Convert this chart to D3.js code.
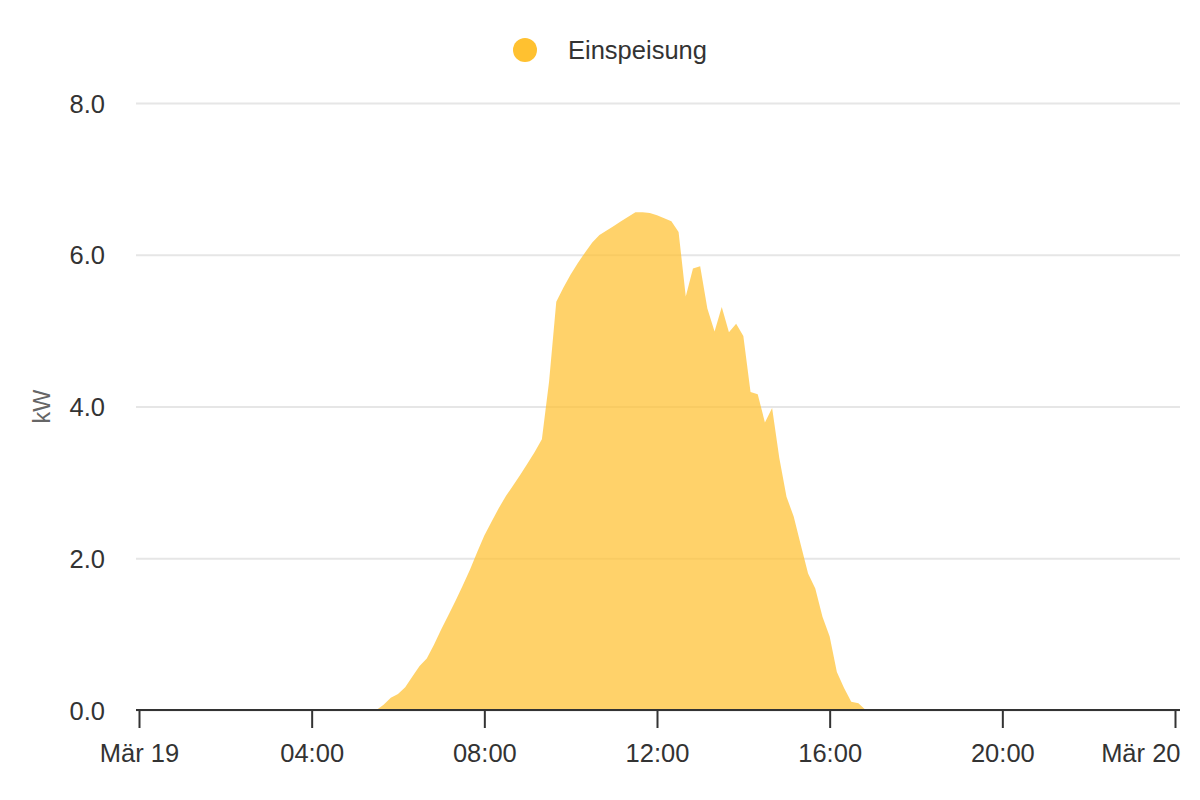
<!DOCTYPE html>
<html>
<head>
<meta charset="utf-8">
<script src="https://cdn.jsdelivr.net/npm/d3@7"></script>
<style>
  html, body { margin: 0; padding: 0; background: #fff; }
  svg { display: block; font-family: "Liberation Sans", Arial, sans-serif; }
</style>
</head>
<body>
<svg id="chart" width="1200" height="800"></svg>
<script>
// ---- data ----
const seriesName = "Einspeisung";
const yAxisTitle = "kW";
const dayStart = "2024-03-19T00:00";
const dayEnd = "2024-03-20T00:00";
const times = [
  "05:20","05:30","05:40","05:50","06:00","06:10","06:20","06:30","06:40","06:50",
  "07:00","07:10","07:20","07:30","07:40","07:50","08:00","08:10","08:20","08:30",
  "08:40","08:50","09:00","09:10","09:20","09:30","09:40","09:50","10:00","10:10",
  "10:20","10:30","10:40","10:50","11:00","11:10","11:20","11:30","11:40","11:50",
  "12:00","12:10","12:20","12:30","12:40","12:50","13:00","13:10","13:20","13:30",
  "13:40","13:50","14:00","14:10","14:20","14:30","14:40","14:50","15:00","15:10",
  "15:20","15:30","15:40","15:50","16:00","16:10","16:20","16:30","16:40","16:50",
  "17:00"
];
const values = [
  0, 0, 0.07, 0.16, 0.21, 0.30, 0.44, 0.58, 0.68, 0.86,
  1.06, 1.25, 1.44, 1.64, 1.85, 2.08, 2.30, 2.48, 2.66, 2.82,
  2.96, 3.10, 3.25, 3.40, 3.57, 4.33, 5.38, 5.57, 5.74, 5.89,
  6.03, 6.16, 6.26, 6.32, 6.38, 6.44, 6.50, 6.56, 6.56, 6.55,
  6.52, 6.48, 6.44, 6.30, 5.45, 5.82, 5.85, 5.29, 4.99, 5.31,
  4.98, 5.09, 4.93, 4.19, 4.16, 3.79, 3.98, 3.32, 2.81, 2.55,
  2.17, 1.80, 1.60, 1.23, 0.97, 0.50, 0.29, 0.11, 0.09, 0,
  0
];
const yTicks = [0, 2, 4, 6, 8];
const xTickHours = [0, 4, 8, 12, 16, 20, 24];
const xTickLabels = ["Mär 19", "04:00", "08:00", "12:00", "16:00", "20:00", "Mär 20"];

// ---- layout ----
const svg = d3.select("#chart");
const plotLeft = 139, plotRight = 1175, plotTop = 103, plotBottom = 710;
const padL = 3, padR = 5;
const fontSize = 25.5;

const parse = d3.timeParse("%Y-%m-%dT%H:%M");
const t0 = parse(dayStart), t1 = parse(dayEnd);
const x = d3.scaleTime().domain([t0, t1]).range([plotLeft, plotRight]);
const y = d3.scaleLinear().domain([0, 8]).range([plotBottom, plotTop]);

const data = times.map((t, i) => ({ t: parse("2024-03-19T" + t), v: values[i] }));

// grid + y labels
const yAxis = d3.axisLeft(y)
  .tickValues(yTicks)
  .tickFormat(d3.format(".1f"))
  .tickSize(-(plotRight + padR - (plotLeft - padL)))
  .tickPadding(31);
const gy = svg.append("g").attr("transform", `translate(${plotLeft - padL},0)`).call(yAxis);
gy.select(".domain").remove();
gy.selectAll(".tick line").attr("stroke", "#e6e6e6").attr("stroke-width", 2);
gy.selectAll(".tick text").attr("fill", "#333").attr("font-size", fontSize)
  .attr("font-family", "'Liberation Sans', Arial, sans-serif").attr("dy", "0.36em");

// area
const area = d3.area().x(d => x(d.t)).y0(y(0)).y1(d => y(d.v)).curve(d3.curveLinear);
svg.append("path").datum(data).attr("d", area)
  .attr("fill", "#ffc130").attr("fill-opacity", 0.72);

// x axis
const xAxis = d3.axisBottom(x)
  .tickValues(xTickHours.map(h => d3.timeHour.offset(t0, h)))
  .tickFormat((d, i) => xTickLabels[i])
  .tickSize(18)
  .tickSizeOuter(0)
  .tickPadding(16);
const gx = svg.append("g").attr("transform", `translate(0,${plotBottom})`).call(xAxis);
gx.select(".domain").remove();
gx.append("line")
  .attr("x1", plotLeft - padL).attr("x2", plotRight + padR)
  .attr("y1", 0).attr("y2", 0)
  .attr("stroke", "#333").attr("stroke-width", 2);
gx.selectAll(".tick line").attr("stroke", "#333").attr("stroke-width", 2);
gx.selectAll(".tick text").attr("fill", "#333").attr("font-size", fontSize)
  .attr("font-family", "'Liberation Sans', Arial, sans-serif");
// keep the last label inside the canvas (right-justified like the reference)
gx.selectAll(".tick text").filter((d, i) => i === xTickLabels.length - 1)
  .attr("text-anchor", "end").attr("x", 5);

// y axis title
svg.append("text")
  .attr("transform", `translate(50,${(plotTop + plotBottom) / 2}) rotate(-90)`)
  .attr("text-anchor", "middle")
  .attr("fill", "#666").attr("font-size", 23.5)
  .text(yAxisTitle);

// legend
const lg = svg.append("g");
lg.append("circle").attr("cx", 525).attr("cy", 50).attr("r", 12).attr("fill", "#ffc130");
lg.append("text").attr("x", 568).attr("y", 59)
  .attr("fill", "#333").attr("font-size", fontSize)
  .text(seriesName);
</script>
</body>
</html>
